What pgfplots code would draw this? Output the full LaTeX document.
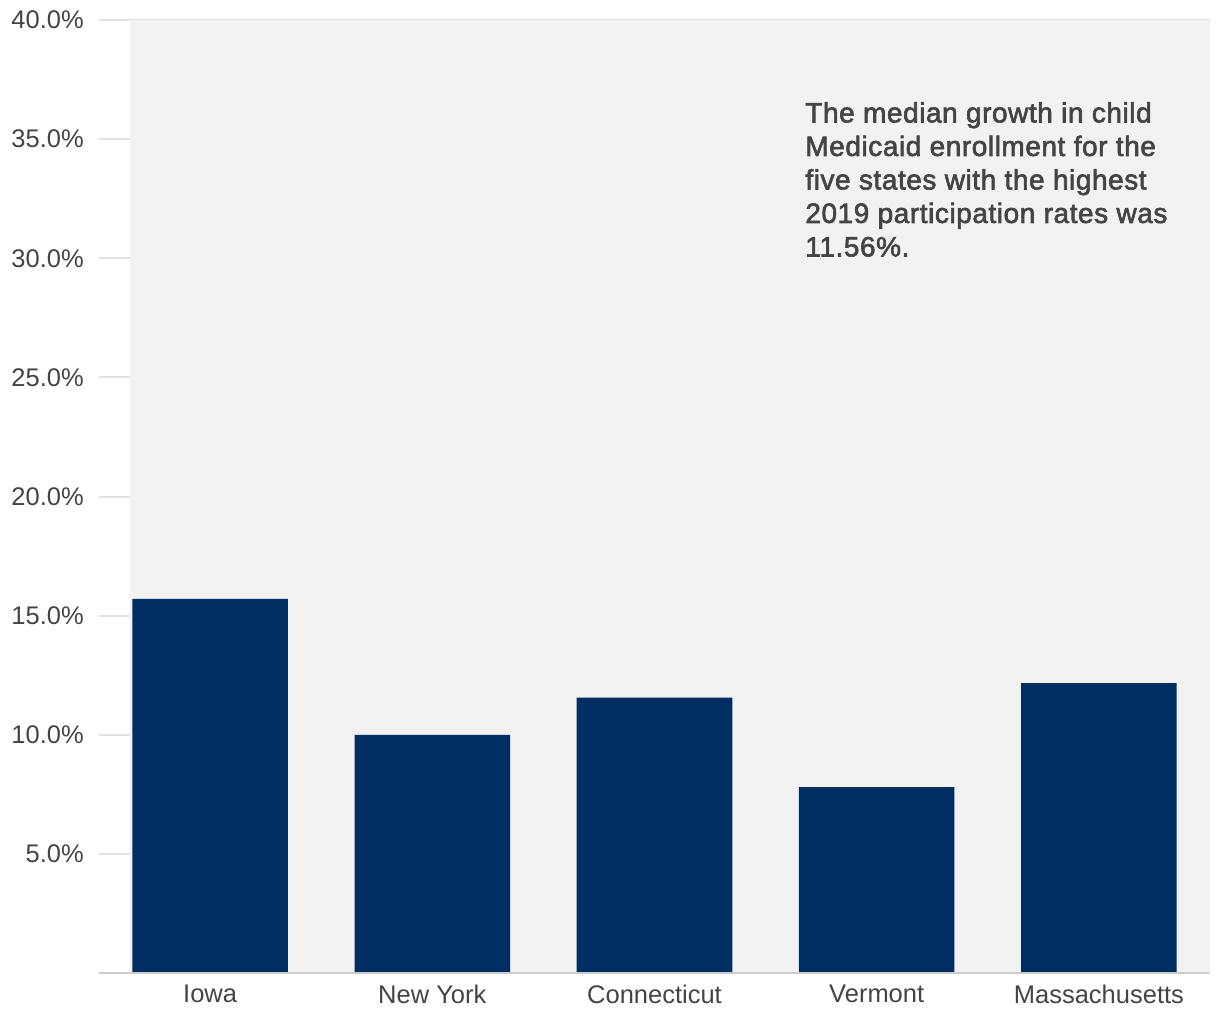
\documentclass[border=0pt]{standalone}
\usepackage{fontspec}
\setmainfont{Liberation Sans}
\newfontfamily\annfont[FakeBold=2.2, LetterSpace=2]{Liberation Sans}
\usepackage{pgfplots}
\pgfplotsset{compat=1.18}
\definecolor{barblue}{HTML}{002D62}
\definecolor{bggray}{HTML}{F2F2F2}
\definecolor{gridgray}{HTML}{E2E2E2}
\definecolor{basegray}{HTML}{CCCCCC}
\definecolor{txtgray}{HTML}{444444}
\begin{document}
\begin{tikzpicture}
\begin{axis}[
  set layers,
  scale only axis,
  width=1111pt, height=953pt,
  xmin=-0.5, xmax=4.5,
  ymin=0, ymax=40,
  axis line style={draw=none},
  major tick length=0pt,
  xtick={0,1,2,3,4},
  xticklabels={Iowa,New York,Connecticut,Vermont,Massachusetts},
  ytick={5,10,15,20,25,30,35,40},
  yticklabels={5.0\%,10.0\%,15.0\%,20.0\%,25.0\%,30.0\%,35.0\%,40.0\%},
  ymajorgrids,
  grid style={gridgray, line width=2pt},
  tick label style={font=\fontsize{25.5}{30}\selectfont, text=txtgray, inner sep=0pt},
  yticklabel style={anchor=east, xshift=-15pt},
  xticklabel style={anchor=north, yshift=-12pt},
  ybar, bar width=0.7,
]
\fill[bggray, on layer=axis background] (axis cs:-0.36,0) rectangle (axis cs:4.5,40);
\addplot[fill=barblue, draw=none] coordinates {(0,15.70) (1,10.0) (2,11.56) (3,7.80) (4,12.17)};
\draw[basegray, line width=2pt] (axis cs:-0.5,0) -- (axis cs:4.5,0);
\node[anchor=north west, align=left, inner sep=0pt, text=txtgray,
  font=\annfont\fontsize{28}{33.5}\selectfont]
  at (axis cs:2.678,36.56)
  {The median growth in child\\Medicaid enrollment for the\\five states with the highest\\2019 participation rates was\\11.56\%.};
\end{axis}
\path ([xshift=-99pt,yshift=-47pt]current axis.south west) rectangle ([xshift=10pt,yshift=20pt]current axis.north east);
\end{tikzpicture}
\end{document}
